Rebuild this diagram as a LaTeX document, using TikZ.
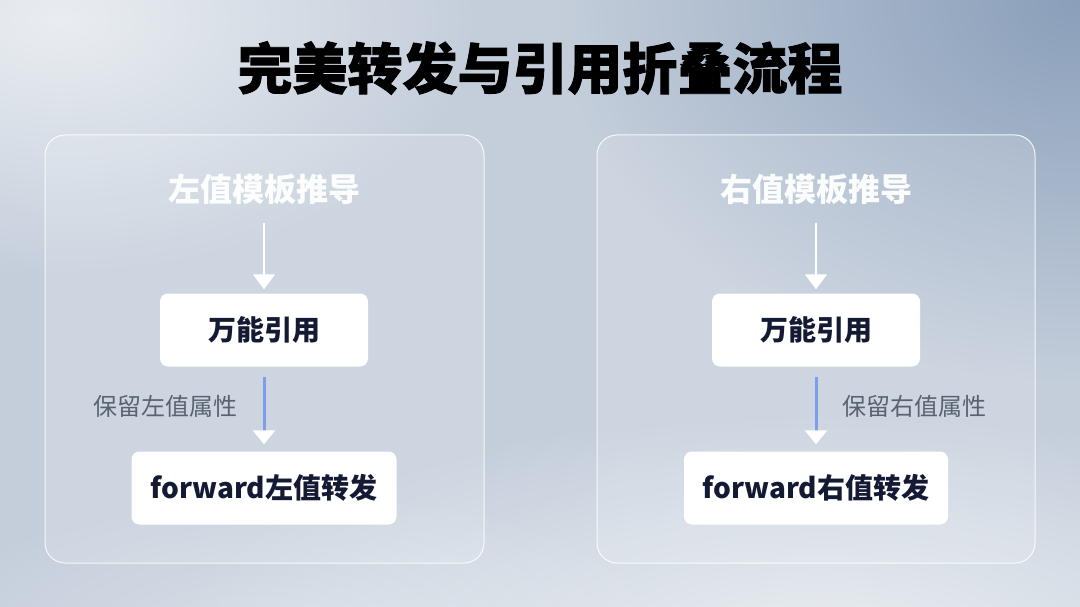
\documentclass[tikz,border=0pt]{standalone}
\usepackage{fontspec}
\setmainfont{Noto Sans CJK SC}
\newfontfamily\titlefont{Noto Sans CJK SC}[BoldFeatures={FakeBold=1.5}]
\usepackage{xcolor}
\usetikzlibrary{arrows.meta, positioning, fadings}

\definecolor{bgbase}{HTML}{C4CEDB}
\definecolor{bglight}{HTML}{EEF1F4}
\definecolor{bgdark}{HTML}{8A9FBA}
\definecolor{navy}{HTML}{141A33}
\definecolor{notegray}{HTML}{5A6270}
\definecolor{linkblue}{HTML}{7E9EEC}

\tikzfading[name=glow, inner color=transparent!0, outer color=transparent!100]

\begin{document}
\begin{tikzpicture}[
        x=1pt, y=-1pt,
        panel/.style={draw=white, draw opacity=0.85, line width=1pt, fill=white, fill opacity=0.15, rounded corners=20pt},
        heading/.style={font=\fontsize{32}{32}\selectfont\bfseries, text=white, text opacity=0.95, inner sep=0pt, text height=0.8em, text depth=0.2em},
        block/.style={fill=white, rounded corners=8pt, minimum height=73pt, inner sep=0pt, font=\fontsize{28}{28}\selectfont\bfseries, text=navy},
        note/.style={font=\fontsize{24}{24}\selectfont, text=notegray, inner sep=0pt},
        flow/.style={line width=2pt, white, -{Triangle[width=22pt, length=15pt, color=white]}},
        keep/.style={line width=3pt, linkblue, -{Triangle[width=22pt, length=14pt, color=white]}}
    ]
    % background
    \useasboundingbox (0,0) rectangle (1080,607);
    \fill[bgbase] (0,0) rectangle (1080,607);
    \begin{scope}
        \clip (0,0) rectangle (1080,607);
        \fill[bglight, path fading=glow, fill opacity=0.9] (60,20) ellipse (420 and 260);
        \fill[bglight, path fading=glow, fill opacity=0.9] (820,640) ellipse (650 and 230);
        \fill[bglight, path fading=glow, fill opacity=0.5] (300,640) ellipse (400 and 150);
        \fill[bgdark, path fading=glow] (1080,0) ellipse (520 and 380);
    \end{scope}

    % title
    \node[font=\titlefont\fontsize{55}{55}\selectfont\bfseries, text=black] (title) at (540,68) {完美转发与引用折叠流程};

    % panels
    \path[panel] (45,135) rectangle (484,563);
    \path[panel] (597,135) rectangle (1035,563);

    % left: lvalue
    \node[heading] (lhead) at (264,199) {左值模板推导};
    \node[block, minimum width=208pt] (lref) at (264,330) {万能引用};
    \node[block, minimum width=265pt] (lfwd) at (264,488) {forward左值转发};
    \node[note, anchor=east] (lnote) at (238,406) {保留左值属性};

    \draw[flow, shorten <=19pt, shorten >=4pt] (lhead) -- (lref);
    \draw[keep, shorten <=10pt, shorten >=7pt] (lref) -- (lfwd);

    % right: rvalue
    \node[heading] (rhead) at (816,199) {右值模板推导};
    \node[block, minimum width=208pt] (rref) at (816,330) {万能引用};
    \node[block, minimum width=264pt] (rfwd) at (816,488) {forward右值转发};
    \node[note, anchor=west] (rnote) at (842,406) {保留右值属性};

    \draw[flow, shorten <=19pt, shorten >=4pt] (rhead) -- (rref);
    \draw[keep, shorten <=10pt, shorten >=7pt] (rref) -- (rfwd);
\end{tikzpicture}
\end{document}
